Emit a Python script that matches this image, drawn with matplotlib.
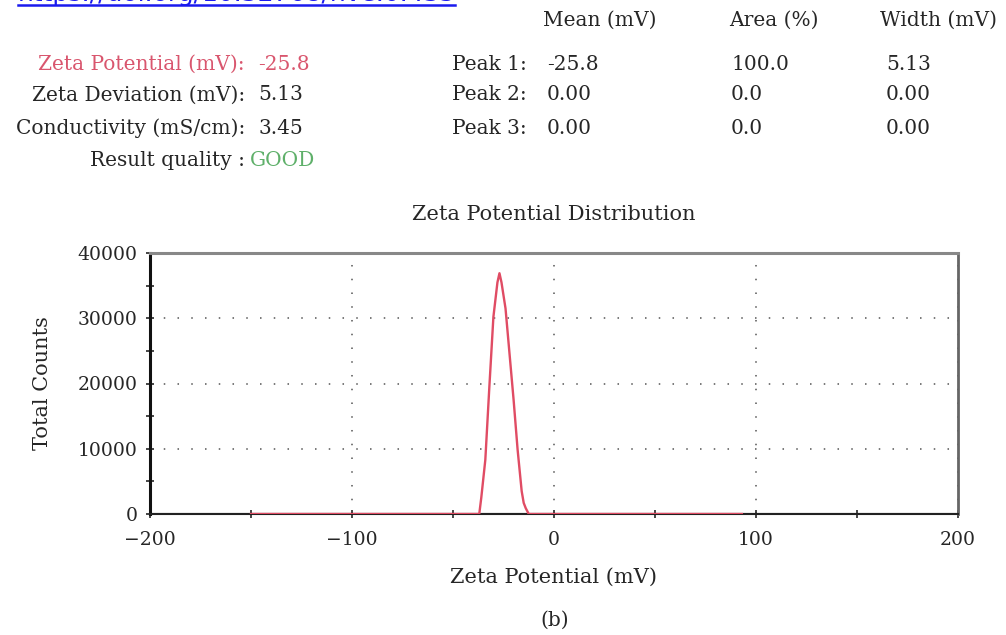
import matplotlib.pyplot as plt
from matplotlib.ticker import MultipleLocator

plt.rcParams['font.family'] = ['DejaVu Serif']

# distribution curve (mV, counts)
zeta_mv = [-150, -37, -36, -34, -32, -30, -28, -27, -26, -24, -22, -20, -18, -16, -15, -14, -12.5, 93]
counts = [0, 0, 2500, 8300, 19500, 30200, 35500, 36900, 35500, 31500, 24500, 17500, 9800, 3500, 1700, 900, 0, 0]

# summary table
left_labels = ["Zeta Potential (mV):", "Zeta Deviation (mV):", "Conductivity (mS/cm):"]
left_values = ["-25.8", "5.13", "3.45"]
peak_labels = ["Peak 1:", "Peak 2:", "Peak 3:"]
peak_mean = ["-25.8", "0.00", "0.00"]
peak_area = ["100.0", "0.0", "0.0"]
peak_width = ["5.13", "0.00", "0.00"]
headers = ["Mean (mV)", "Area (%)", "Width (mV)"]

W, H = 1006, 635
fig = plt.figure(figsize=(W / 100, H / 100), dpi=100)

def fx(px):
    return px / W

def fy(py):
    return 1 - py / H

fs = 14.5
fs_ax = 15
txt = "#262626"
red = "#d9566e"
green = "#5fb06a"

# doi link, cut off by the top edge as in the source image
fig.text(fx(18), fy(1.5), "https://doi.org/10.32768/nve.0.435", color="#1a1aee",
         fontsize=18, family="DejaVu Sans", va="baseline", ha="left")
fig.add_artist(plt.Line2D([fx(18), fx(455)], [fy(5), fy(5)], color="#1a1aee", lw=1.8))

rows_y = [64, 95, 128]
for i, (lab, val) in enumerate(zip(left_labels, left_values)):
    c = red if i == 0 else txt
    fig.text(fx(245), fy(rows_y[i]), lab, ha="right", va="center", fontsize=fs, color=c)
    fig.text(fx(258), fy(rows_y[i]), val, ha="left", va="center", fontsize=fs, color=c)
fig.text(fx(245), fy(160), "Result quality :", ha="right", va="center", fontsize=fs, color=txt)
fig.text(fx(250), fy(160), "GOOD", ha="left", va="center", fontsize=fs, color=green)

for hx, h in zip([543, 729, 880], headers):
    fig.text(fx(hx), fy(20), h, ha="left", va="center", fontsize=fs, color=txt)
for i in range(3):
    y = fy(rows_y[i])
    fig.text(fx(452), y, peak_labels[i], ha="left", va="center", fontsize=fs, color=txt)
    fig.text(fx(547), y, peak_mean[i], ha="left", va="center", fontsize=fs, color=txt)
    fig.text(fx(731), y, peak_area[i], ha="left", va="center", fontsize=fs, color=txt)
    fig.text(fx(886), y, peak_width[i], ha="left", va="center", fontsize=fs, color=txt)

ax = fig.add_axes([fx(150), fy(514), fx(958 - 150), (514 - 253) / H])
ax.axhline(0, color="#222222", lw=1.5, zorder=1)
ax.plot(zeta_mv, counts, color="#e04c64", lw=1.7, zorder=3)

ax.set_xlim(-200, 200)
ax.set_ylim(0, 40000)
ax.xaxis.set_major_locator(MultipleLocator(100))
ax.xaxis.set_minor_locator(MultipleLocator(50))
ax.yaxis.set_major_locator(MultipleLocator(10000))
ax.yaxis.set_minor_locator(MultipleLocator(5000))
ax.tick_params(which="both", direction="inout", length=6, width=1.2, labelsize=13.5, colors=txt)
ax.tick_params(axis="x", pad=9)
ax.tick_params(axis="y", pad=6)
ax.grid(True, which="major", linestyle=(0, (1, 8)), color="#555555", lw=1.1)

ax.spines["left"].set_linewidth(2.2)
ax.spines["left"].set_color("#111111")
ax.spines["bottom"].set_linewidth(1.5)
ax.spines["bottom"].set_color("#222222")
ax.spines["top"].set_linewidth(2.2)
ax.spines["top"].set_color("#888888")
ax.spines["right"].set_linewidth(2.0)
ax.spines["right"].set_color("#666666")

ax.set_title("Zeta Potential Distribution", fontsize=fs_ax, pad=24, color=txt)
ax.set_xlabel("Zeta Potential (mV)", fontsize=fs_ax, labelpad=14, color=txt)
ax.set_ylabel("Total Counts", fontsize=fs_ax, labelpad=18, color=txt)

fig.text(fx(555), fy(620), "(b)", ha="center", va="center", fontsize=fs, color=txt)

fig.savefig("out.png", dpi=100)
